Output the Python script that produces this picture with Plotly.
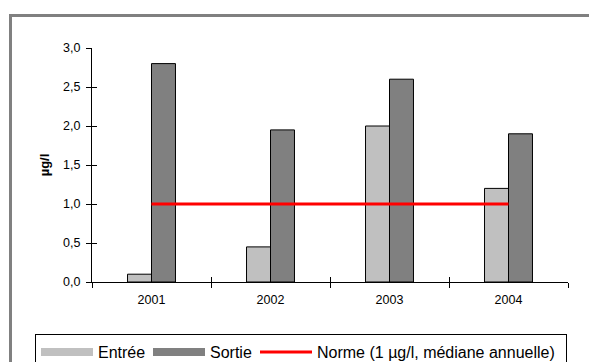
import plotly.graph_objects as go

# ---- data ----
years = ["2001", "2002", "2003", "2004"]
entree = [0.1, 0.45, 2.0, 1.2]
sortie = [2.8, 1.95, 2.6, 1.9]
norme = [1.0, 1.0, 1.0, 1.0]
y_tick_values = [0.0, 0.5, 1.0, 1.5, 2.0, 2.5, 3.0]
y_tick_labels = ["0,0", "0,5", "1,0", "1,5", "2,0", "2,5", "3,0"]

# ---- styling ----
W, H = 589, 362
L, R, T, B = 92, 21, 48, 80
pw, ph = W - L - R, H - T - B
FONT = "Liberation Sans, Arial, sans-serif"
C_ENTREE = "#C0C0C0"
C_SORTIE = "#808080"
C_NORME = "#FF0000"


def px_x(x):
    return (x - L) / pw


def px_y(y):
    return (H - B - y) / ph


fig = go.Figure()
fig.add_trace(go.Bar(x=years, y=entree, name="Entrée", marker=dict(color=C_ENTREE, line=dict(color="black", width=1)), showlegend=False))
fig.add_trace(go.Bar(x=years, y=sortie, name="Sortie", marker=dict(color=C_SORTIE, line=dict(color="black", width=1)), showlegend=False))
fig.add_trace(go.Scatter(x=years, y=norme, mode="lines", name="Norme (1 µg/l, médiane annuelle)",
                         line=dict(color=C_NORME, width=3), xaxis="x2", yaxis="y2", showlegend=False))

# legend proxies (wide swatches like the original)
fig.add_trace(go.Scatter(x=[None], y=[None], mode="lines", name="Entrée", line=dict(color=C_ENTREE, width=8), legendwidth=45))
fig.add_trace(go.Scatter(x=[None], y=[None], mode="lines", name="Sortie", line=dict(color=C_SORTIE, width=8), legendwidth=40))
fig.add_trace(go.Scatter(x=[None], y=[None], mode="lines", name="Norme (1 µg/l, médiane annuelle)",
                         line=dict(color=C_NORME, width=3), legendwidth=244))

axis_common = dict(showgrid=False, zeroline=False, linecolor="black", linewidth=1,
                   tickcolor="black", ticklen=5, tickwidth=1, fixedrange=True)

fig.update_layout(
    width=W, height=H,
    margin=dict(l=L, r=R, t=T, b=B, autoexpand=False),
    paper_bgcolor="white", plot_bgcolor="white",
    font=dict(family=FONT, size=12, color="black"),
    barmode="group", bargap=0.597, bargroupgap=0,
    xaxis=dict(**axis_common, type="category", categoryarray=years, range=[-0.5, 3.5],
               showline=True, ticks="outside", tickson="boundaries", tickfont=dict(size=12.5),
               ticklabelstandoff=6),
    yaxis=dict(**axis_common, range=[0, 3], showline=True, ticks="outside",
               tickvals=y_tick_values, ticktext=y_tick_labels, tickfont=dict(size=12.5),
               ticklabelstandoff=3,
               title=dict(text="<b>µg/l</b>", font=dict(size=13), standoff=10)),
    xaxis2=dict(**axis_common, type="category", categoryarray=years, range=[-0.5, 3.5],
                overlaying="x", anchor="y2", showline=False, ticks="inside", tickson="boundaries",
                showticklabels=False),
    yaxis2=dict(**axis_common, range=[0, 3], overlaying="y", anchor="x2", side="left",
                showline=False, ticks="inside", tickvals=y_tick_values, showticklabels=False),
    legend=dict(orientation="h", x=px_x(35), y=px_y(334), xanchor="left", yanchor="top",
                bordercolor="black", borderwidth=1, bgcolor="white",
                font=dict(size=16, family=FONT), itemwidth=52, tracegroupgap=0),
    shapes=[dict(type="rect", xref="paper", yref="paper",
                 x0=px_x(10.5), x1=px_x(700), y0=px_y(700), y1=px_y(15.5),
                 line=dict(color="#808080", width=3), layer="below")],
)

fig.write_html("out.html", config={"displayModeBar": False},
               post_script="document.body.style.margin='0';document.body.style.overflow='hidden';")
